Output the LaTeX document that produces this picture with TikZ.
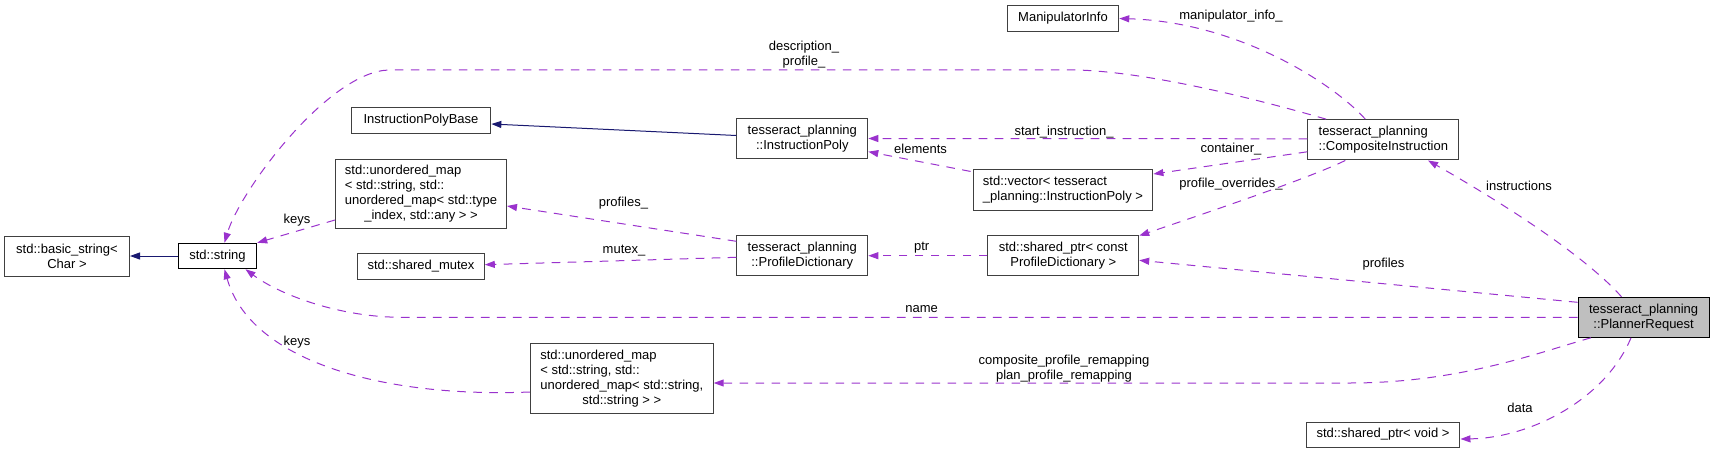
\documentclass[tikz,border=0pt]{standalone}
\usepackage{fontspec}
\setmainfont{Liberation Sans}
\usetikzlibrary{arrows.meta,calc}
\definecolor{inhcol}{RGB}{25,25,112}
\definecolor{usecol}{RGB}{154,50,205}
\definecolor{bordcol}{RGB}{64,64,64}
\definecolor{rootfill}{RGB}{191,191,191}
\newcommand{\lastc}[1]{\multicolumn{1}{@{}c@{}}{#1}}
\begin{document}
\begin{tikzpicture}[x=0.75pt,y=-0.75pt,
  box/.style={draw=bordcol, line width=0.75pt, inner sep=0pt, fill=white,
    font=\fontsize{9.75pt}{11.25pt}\selectfont},
  sz/.style 2 args={minimum width=#1*0.75pt, minimum height=#2*0.75pt},
  lbl/.style={inner sep=0pt, align=center, font=\fontsize{9.75pt}{11.25pt}\selectfont},
  inhline/.style={draw=inhcol, line width=0.75pt, -{Triangle[length=7.5pt,width=5.25pt]}},
  useline/.style={draw=usecol, line width=0.75pt, dash pattern=on 6.5pt off 5.5pt,
    -{Triangle[length=7.5pt,width=5.25pt]}}]
\useasboundingbox (0,0) rectangle (1715,453);

% nodes
\node[box, sz={125}{40}, align=center] (bs) at (67,256) {std::basic\_string<\\Char >};
\node[box, sz={78.5}{25.5}, draw=black] (str) at (217.5,256) {std::string};
\node[box, sz={139.7}{26}] (ipb) at (421,120) {InstructionPolyBase};
\node[box, sz={171}{69}] (um1) at (421,193.5) {\begin{tabular}{@{}l@{}}std::unordered\_map\\< std::string, std::\\unordered\_map< std::type\\\lastc{\_index, std::any > >}\end{tabular}};
\node[box, sz={126.6}{25.6}] (mutex) at (421,266.5) {std::shared\_mutex};
\node[box, sz={182.8}{69.6}] (um2) at (621.8,378.5) {\begin{tabular}{@{}l@{}}std::unordered\_map\\< std::string, std::\\unordered\_map< std::string,\\\lastc{std::string > >}\end{tabular}};
\node[box, sz={131}{40.4}, align=center] (ip) at (802.3,138.5) {tesseract\_planning\\::InstructionPoly};
\node[box, sz={131}{40}, align=center] (pd) at (802.3,255.7) {tesseract\_planning\\::ProfileDictionary};
\node[box, sz={111.4}{25.6}] (mi) at (1063,18.5) {ManipulatorInfo};
\node[box, sz={179.8}{40.7}] (vec) at (1063,190.3) {\begin{tabular}{@{}l@{}}std::vector< tesseract\\\lastc{\_planning::InstructionPoly >}\end{tabular}};
\node[box, sz={150.8}{40}, align=center] (spc) at (1063.3,255.7) {std::shared\_ptr< const\\ProfileDictionary >};
\node[box, sz={151}{40.3}] (ci) at (1383.3,139.8) {\begin{tabular}{@{}l@{}}tesseract\_planning\\\lastc{::CompositeInstruction}\end{tabular}};
\node[box, sz={131.2}{40}, align=center, fill=rootfill, draw=black] (pr) at (1643.6,317.3) {tesseract\_planning\\::PlannerRequest};
\node[box, sz={153.9}{25}] (spv) at (1383,434.5) {std::shared\_ptr< void >};

% inheritance
\draw[inhline] (str.west) -- (bs.east);
\draw[inhline] ($(ip.west)+(0,-3)$) -- ($(ipb.east)+(0,4)$);

% usage
\draw[useline] ($(um1.south west)+(0,-8.5)$) -- (str.north east);
\draw[useline] ($(pd.west)+(0,1.6)$) -- ($(mutex.east)+(0,-1.8)$);
\draw[useline] ($(pd.west)+(0,-14.4)$) -- ($(um1.east)+(0,12.5)$);
\draw[useline] (spc.west) -- (pd.east);
\draw[useline] ($(vec.north west)+(-2,2)$) -- ($(ip.east)+(0,13.2)$);
\draw[useline] ($(ci.west)+(0,-1)$) -- (ip.east);
\draw[useline] ($(ci.west)+(0,12)$) -- ($(vec.east)+(0,-16.3)$);
\draw[useline] ($(ci.south west)+(38,0)$) .. controls (1310,178) and (1200,215) .. ($(spc.north east)+(0,0.5)$);
\draw[useline] ($(ci.north west)+(18.8,0)$) .. controls (1260,100) and (1150,72) .. (1077,70) -- (390,70) .. controls (330,70) and (240,190) .. ($(str.north)+(7,0)$);
\draw[useline] ($(ci.north west)+(58,0)$) .. controls (1335,85) and (1240,22) .. (mi.east);
\draw[useline] ($(pr.north west)+(44,0)$) .. controls (1580,250) and (1480,190) .. ($(ci.south east)+(-31.3,0)$);
\draw[useline] ($(pr.west)+(0,-15)$) -- ($(spc.east)+(0,4.6)$);
\draw[useline] (pr.west) -- (402,317.3) .. controls (340,317.3) and (280,295) .. ($(str.south east)+(-11.8,0)$);
\draw[useline] ($(um2.west)+(0,13.5)$) .. controls (380,398) and (250,360) .. ($(str.south)+(7,0)$);
\draw[useline] ($(pr.south west)+(13.4,0)$) .. controls (1540,352) and (1460,383) .. (1350,383) -- ($(um2.east)+(0,4.5)$);
\draw[useline] ($(pr.south)+(-12.6,0)$) .. controls (1605,400) and (1530,438) .. ($(spv.east)+(0,4.5)$);

% labels
\node[lbl] (lkeysA) at (297,220.5) {keys};
\node[lbl] (lmutex) at (624,250.3) {mutex\_};
\node[lbl] (lprofA) at (623.5,202.7) {profiles\_};
\node[lbl] (lptr) at (921.7,248) {ptr};
\node[lbl] (lelem) at (920.6,148.7) {elements};
\node[lbl] (lstart) at (1064,132) {start\_instruction\_};
\node[lbl] (lcont) at (1231,148.7) {container\_};
\node[lbl] (lpover) at (1231,184) {profile\_overrides\_};
\node[lbl] (ldesc) at (804,54.5) {description\_\\profile\_};
\node[lbl] (lmani) at (1231,16) {manipulator\_info\_};
\node[lbl] (linstr) at (1519,186) {instructions};
\node[lbl] (lprofB) at (1383.5,263.7) {profiles};
\node[lbl] (lname) at (921.7,309) {name};
\node[lbl] (lkeysB) at (297,342.3) {keys};
\node[lbl] (lremap) at (1064,368.2) {composite\_profile\_remapping\\plan\_profile\_remapping};
\node[lbl] (ldata) at (1520,408) {data};
\end{tikzpicture}
\end{document}
